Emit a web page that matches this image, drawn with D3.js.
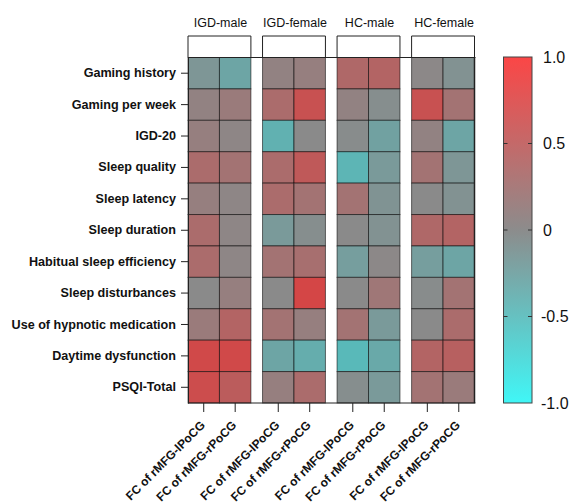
<!DOCTYPE html>
<html>
<head>
<meta charset="utf-8">
<script src="https://cdn.jsdelivr.net/npm/d3@7"></script>
<style>
  body { margin: 0; background: #fff; }
  svg { display: block; font-family: Arial, "Liberation Sans", sans-serif; }
</style>
</head>
<body>
<svg id="chart" width="576" height="504"></svg>
<script>
var rows = ["Gaming history", "Gaming per week", "IGD-20", "Sleep quality", "Sleep latency",
  "Sleep duration", "Habitual sleep efficiency", "Sleep disturbances",
  "Use of hypnotic medication", "Daytime dysfunction", "PSQI-Total"];

var groups = ["IGD-male", "IGD-female", "HC-male", "HC-female"];
var measures = ["FC of rMFG-lPoCG", "FC of rMFG-rPoCG"];

// one array per group, each row is [lPoCG, rPoCG]
var igdMale = [[-0.15, -0.35], [0.1, 0.2], [0.15, 0.05], [0.4, 0.3], [0.15, 0.05], [0.4, 0.05],
  [0.4, 0.05], [0, 0.15], [0.2, 0.5], [0.85, 0.85], [0.8, 0.6]];
var igdFemale = [[0.1, 0.15], [0.4, 0.75], [-0.5, 0], [0.4, 0.65], [0.4, 0.3], [-0.2, -0.05],
  [0.3, 0.35], [0, 0.9], [0.3, 0.15], [-0.35, -0.45], [0.15, 0.4]];
var hcMale = [[0.45, 0.5], [0.1, -0.05], [-0.03, -0.3], [-0.55, -0.2], [0.3, -0.12], [0, -0.1],
  [-0.25, 0.02], [0, 0.25], [0.3, -0.2], [-0.6, -0.4], [-0.05, -0.2]];
var hcFemale = [[0.03, -0.1], [0.75, 0.3], [0.1, -0.35], [0.3, -0.15], [0, -0.1], [0.45, 0.5],
  [-0.25, -0.35], [-0.03, 0.3], [0, 0.4], [0.5, 0.55], [0.3, 0.2]];

var colorTicks = [1, 0.5, 0, -0.5, -1];
var colorTickLabels = ["1.0", "0.5", "0", "-0.5", "-1.0"];

var groupValues = [igdMale, igdFemale, hcMale, hcFemale];

var svg = d3.select("#chart"),
    margin = {top: 57.5, left: 188, right: 474.5, bottom: 403};

var cells = [];
groups.forEach(function(g, gi) {
  rows.forEach(function(r, ri) {
    measures.forEach(function(m, mi) {
      cells.push({group: g, row: r, measure: m, value: groupValues[gi][ri][mi]});
    });
  });
});

var xg = d3.scaleBand()
    .domain(groups)
    .range([margin.left, margin.right])
    .paddingInner(0.156)
    .paddingOuter(0);

var xm = d3.scaleBand()
    .domain(measures)
    .range([0, xg.bandwidth()]);

var y = d3.scaleBand()
    .domain(rows)
    .range([margin.top, margin.bottom]);

var color = d3.scaleLinear()
    .domain([-1, 0, 1])
    .range(["#40f6f6", "#8c8c8c", "#fb4646"]);

// cells come out a bit darker than the bar in the original
var cellColor = d3.scaleLinear()
    .domain([-1, 0, 1])
    .range(["#38d8d8", "#8a8a8a", "#dc3e3e"]);

// cells
svg.append("g")
  .selectAll("rect")
  .data(cells)
  .enter().append("rect")
    .attr("x", function(d) { return xg(d.group) + xm(d.measure); })
    .attr("y", function(d) { return y(d.row); })
    .attr("width", xm.bandwidth())
    .attr("height", y.bandwidth())
    .attr("fill", function(d) { return cellColor(d.value); })
    .attr("stroke", "rgba(0,0,0,0.55)")
    .attr("stroke-width", 1);

// frame
var frame = svg.append("g").attr("stroke", "#222").attr("fill", "none");
frame.append("line")
    .attr("x1", margin.left).attr("x2", margin.right + 1)
    .attr("y1", margin.top).attr("y2", margin.top);
frame.append("line")
    .attr("x1", margin.right).attr("x2", margin.right)
    .attr("y1", margin.top).attr("y2", margin.bottom)
    .attr("stroke-width", 1.5);

// header boxes
svg.append("g")
  .selectAll("path")
  .data(groups)
  .enter().append("path")
    .attr("fill", "none")
    .attr("stroke", "#222")
    .attr("d", function(d) {
      var x0 = xg(d), x1 = xg(d) + xg.bandwidth();
      return "M" + x0 + "," + margin.top + "V36H" + x1 + "V" + margin.top;
    });

svg.append("g")
  .selectAll("text")
  .data(groups)
  .enter().append("text")
    .attr("x", function(d) { return xg(d) + xg.bandwidth() / 2 + 1; })
    .attr("y", 27)
    .attr("text-anchor", "middle")
    .style("font-size", "12.5px")
    .attr("fill", "#111")
    .text(function(d) { return d; });

// y axis
var yAxis = svg.append("g")
    .attr("transform", "translate(" + margin.left + ",0)")
    .call(d3.axisLeft(y).tickSize(7).tickPadding(5).tickSizeOuter(0));
yAxis.select(".domain").attr("stroke", "#222");
yAxis.selectAll(".tick line").attr("stroke", "#222");
yAxis.selectAll("text")
    .style("font-size", "12.6px")
    .style("font-weight", "bold")
    .style("font-family", "Arial, 'Liberation Sans', sans-serif")
    .attr("fill", "#111");

// x axis
var cols = [];
groups.forEach(function(g) {
  measures.forEach(function(m) {
    cols.push({group: g, measure: m});
  });
});

svg.append("line")
    .attr("x1", margin.left).attr("x2", margin.right + 1)
    .attr("y1", margin.bottom).attr("y2", margin.bottom)
    .attr("stroke", "#222");

var xt = svg.append("g")
  .selectAll("g")
  .data(cols)
  .enter().append("g")
    .attr("transform", function(d) {
      return "translate(" + (xg(d.group) + xm(d.measure) + xm.bandwidth() / 2) + "," + margin.bottom + ")";
    });
xt.append("line")
    .attr("y2", 9)
    .attr("stroke", "#222");
xt.append("text")
    .attr("transform", "translate(2,23) rotate(-45)")
    .attr("text-anchor", "end")
    .style("font-size", "12px")
    .style("font-weight", "bold")
    .attr("fill", "#111")
    .text(function(d) { return d.measure; });

// colour bar
var cb = {x: 503.5, w: 28.5, top: 57, bottom: 403};

var defs = svg.append("defs");
var grad = defs.append("linearGradient")
    .attr("id", "cbar")
    .attr("x1", 0).attr("x2", 0).attr("y1", 1).attr("y2", 0);
grad.selectAll("stop")
  .data(d3.range(-1, 1.01, 0.25))
  .enter().append("stop")
    .attr("offset", function(d) { return (d + 1) / 2; })
    .attr("stop-color", function(d) { return color(d); });

var cy = d3.scaleLinear().domain([-1, 1]).range([cb.bottom, cb.top]);

svg.append("rect")
    .attr("x", cb.x).attr("y", cb.top)
    .attr("width", cb.w).attr("height", cb.bottom - cb.top)
    .attr("fill", "url(#cbar)")
    .attr("stroke", "#444");

var ct = svg.append("g")
  .selectAll("g")
  .data(colorTicks)
  .enter().append("g")
    .attr("transform", function(d) { return "translate(0," + cy(d) + ")"; });
ct.filter(function(d) { return Math.abs(d) < 1; }).append("line")
    .attr("x1", cb.x).attr("x2", cb.x + 4)
    .attr("stroke", "#333");
ct.filter(function(d) { return Math.abs(d) < 1; }).append("line")
    .attr("x1", cb.x + cb.w - 4).attr("x2", cb.x + cb.w)
    .attr("stroke", "#333");
ct.append("text")
    .attr("x", function(d) { return d < 0 ? 541 : 543; })
    .attr("dy", "0.35em")
    .style("font-size", "16px")
    .attr("fill", "#111")
    .text(function(d, i) { return colorTickLabels[i]; });
</script>
</body>
</html>
